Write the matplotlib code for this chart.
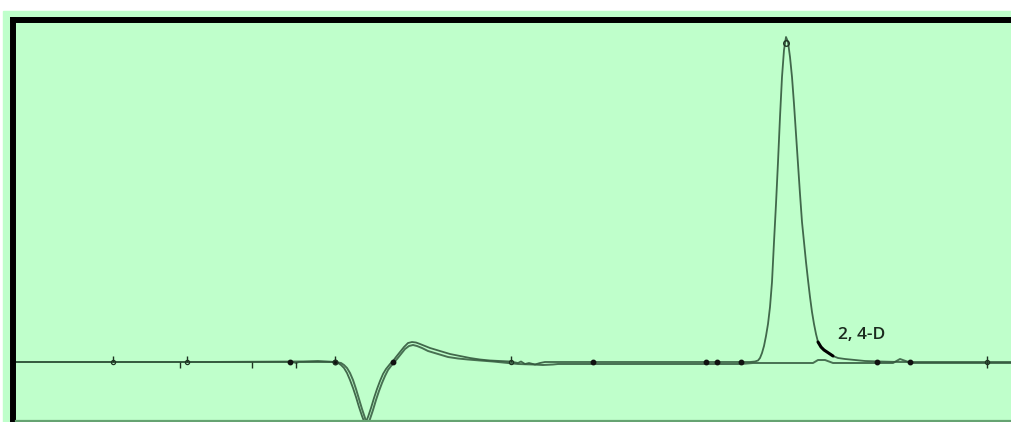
""" Overlaid chromatogram traces with the 2,4-D peak marked
"""

import matplotlib.pyplot as plt
from matplotlib.lines import Line2D
from matplotlib.patches import Rectangle

# retention time (min) and detector response for the spiked run
time_a = [0.00, 0.30, 1.00, 2.00, 2.75, 2.80, 2.83, 2.86, 3.12, 3.22,
          3.25, 3.28, 3.31, 3.34, 3.37, 3.40, 3.43, 3.46, 3.49, 3.52,
          3.55, 3.58, 3.61, 3.64, 3.67, 3.70, 3.73, 3.77, 3.80, 3.83,
          3.87, 3.91, 3.95, 3.99, 4.03, 4.07, 4.12, 4.17, 4.27, 4.37,
          4.47, 4.57, 4.67, 4.77, 4.87, 4.97, 5.00, 5.05, 5.08, 5.12,
          5.16, 5.22, 5.27, 5.32, 6.00, 7.27, 7.37, 7.42, 7.45, 7.47,
          7.49, 7.51, 7.53, 7.55, 7.57, 7.59, 7.60, 7.61, 7.63, 7.65,
          7.67, 7.69, 7.71, 7.73, 7.75, 7.77, 7.79, 7.81, 7.83, 7.85,
          7.87, 7.89, 7.91, 7.93, 7.95, 7.97, 7.99, 8.01, 8.03, 8.05,
          8.08, 8.11, 8.14, 8.17, 8.20, 8.25, 8.32, 8.42, 8.52, 8.67,
          8.87, 9.98]
resp_a = [0, 0, 0, 0, 0, 0, -1, 0, 0, 0,
          -1, -3, -6, -11, -18, -26, -35, -45, -54, -62,
          -55, -46, -36, -27, -19, -12, -7, -2, 1, 5,
          10, 15, 19, 20, 19.5, 18, 16, 14, 11, 8,
          6, 4, 2.5, 1.5, 1, 0.5, 0, -1, 0.5, -2,
          -1, -2.5, -1, 0, 0, 0, 0, 0.5, 1.5, 4,
          9, 16, 26, 38, 55, 80, 100, 120, 158, 200,
          245, 285, 312, 325, 320, 305, 285, 258, 228, 198,
          168, 140, 120, 100, 82, 65, 50, 38, 28, 20,
          15, 12, 10, 8, 6, 4, 3, 2, 1, 0.5,
          0, 0]

# blank run
time_b = [0.00, 1.00, 2.00, 2.90, 3.05, 3.22, 3.28, 3.31, 3.34, 3.37,
          3.40, 3.43, 3.46, 3.49, 3.52, 3.54, 3.57, 3.60, 3.63, 3.66,
          3.69, 3.72, 3.75, 3.78, 3.81, 3.84, 3.88, 3.92, 3.96, 4.00,
          4.04, 4.09, 4.15, 4.25, 4.35, 4.45, 4.55, 4.67, 4.80, 4.95,
          5.05, 5.20, 5.30, 5.40, 5.45, 7.28, 7.40, 8.00, 8.05, 8.12,
          8.20, 8.80, 8.87, 8.94, 9.00, 9.98]
resp_b = [0, 0, 0, 0.5, 1, 0, -1, -3, -6, -11,
          -18, -27, -37, -47, -56, -64, -57, -48, -38, -29,
          -21, -14, -8, -4, -0.5, 3, 8, 13, 16, 17,
          16, 14, 11, 8, 5, 3.5, 2.5, 1.5, 0.5, -1,
          -2, -2.5, -3, -2.5, -2, -2, -1, -1, 2, 2,
          -1, -1, 3, 0.5, -1, -1]

# integration events along the baseline
tick_up_t = [1.00, 1.74, 3.22, 4.98, 9.74]
tick_down_t = [1.67, 2.39, 2.83, 9.74]
event_t = [2.77, 3.22, 3.80, 5.80, 6.93, 7.04, 7.28, 8.64, 8.97]

peak_name = '2, 4-D'
peak_t = 7.73
peak_h = 325
label_t = 8.25
label_h = 23
int_start, int_end = 8.05, 8.20

bg = '#bfffcb'
trace = '#33583d'

fig = plt.figure(figsize=(10.11, 4.22), dpi=100, facecolor='white')
fig.patches.append(Rectangle((3 / 1011, 0), 1, 411 / 422,
                             transform=fig.transFigure, color=bg, zorder=-5))

ax = fig.add_axes([13 / 1011, 0, 998 / 1011, 402.5 / 422])
ax.set_zorder(2)
ax.set_facecolor(bg)
for side in ('right', 'bottom'):
    ax.spines[side].set_visible(False)
for side in ('left', 'top'):
    ax.spines[side].set_linewidth(4.3)
    ax.spines[side].set_color('black')
    ax.spines[side].set_capstyle('projecting')
ax.set_xticks([])
ax.set_yticks([])
ax.set_xlim(0, 9.98)
ax.set_ylim(-60, 342.5)

ax.plot(time_b, resp_b, color=trace, lw=1.4, alpha=0.85)
ax.plot(time_a, resp_a, color=trace, lw=1.3, alpha=0.9)

# highlight the end of the integrated peak
seg = [(t, h) for t, h in zip(time_a, resp_a) if int_start <= t <= int_end]
ax.plot([s[0] for s in seg], [s[1] for s in seg], color='black', lw=2.2,
        solid_capstyle='round')

ax.vlines(tick_up_t, 0, 6, color='#1e3322', lw=1.0)
ax.vlines(tick_down_t, -6, 0, color='#1e3322', lw=1.0)
ax.plot(event_t, [0] * len(event_t), 'o', color='#111', ms=3.2)
ax.plot(tick_up_t, [0] * len(tick_up_t), 'o', mfc='none', mec='#1e3322',
        ms=3, mew=0.9)
ax.plot([peak_t], [peak_h - 6], 'o', mfc='none', mec='#1e3322', ms=4,
        mew=1.0)

ax.text(label_t, label_h, peak_name, fontsize=12.5, family='Open Sans',
        fontweight='semibold', color='#1a2a1e', va='baseline', ha='left')

fig.add_artist(Line2D([16 / 1011, 1], [1.2 / 422, 1.2 / 422],
                      transform=fig.transFigure, color='#66a372', lw=1.6,
                      zorder=5))

fig.savefig('out.png', dpi=100, facecolor=fig.get_facecolor())
